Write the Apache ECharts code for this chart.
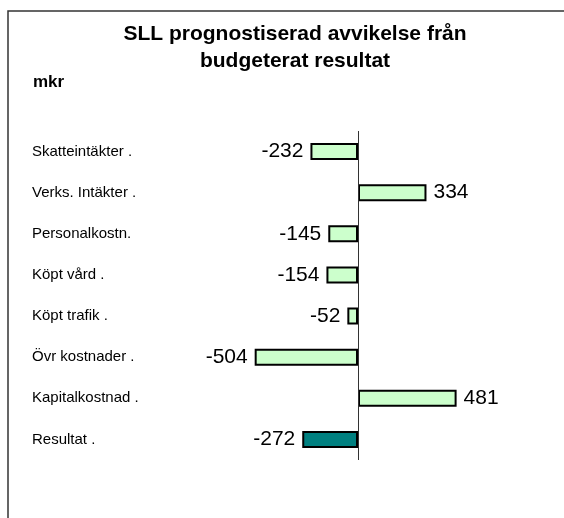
<!DOCTYPE html>
<html><head><meta charset="utf-8">
<script src="https://cdn.jsdelivr.net/npm/echarts@6/dist/echarts.min.js"></script>
<style>html,body{margin:0;padding:0;background:#fff}#c{width:564px;height:518px}</style>
</head><body><div id="c"></div>
<script>
const categories = ["Skatteintäkter .", "Verks. Intäkter .", "Personalkostn.", "Köpt vård .", "Köpt trafik .", "Övr kostnader .", "Kapitalkostnad .", "Resultat ."];
const values = [-232, 334, -145, -154, -52, -504, 481, -272];
const titleLines = ["SLL prognostiserad avvikelse från", "budgeterat resultat"];
const unitLabel = "mkr";

const FONT = '"Liberation Sans", Arial, sans-serif';
const chart = echarts.init(document.getElementById('c'), null, {renderer: 'canvas'});
const data = values.map((v, i) => ({
  value: v,
  itemStyle: {color: i === values.length - 1 ? '#008080' : '#ccffcc'},
  label: {position: v < 0 ? 'left' : 'right'}
}));
chart.setOption({
  backgroundColor: '#fff',
  animation: false,
  title: {
    text: titleLines.join('\n'),
    left: 295, top: 21, padding: 0, textAlign: 'center',
    textStyle: {fontFamily: FONT, fontSize: 21, fontWeight: 'bold', color: '#000', lineHeight: 27}
  },
  graphic: [
    {type: 'rect', shape: {x: 8, y: 11, width: 700, height: 700}, style: {fill: 'none', stroke: '#333', lineWidth: 1.5}},
    {type: 'text', left: 33, top: 74, style: {text: unitLabel, fontFamily: FONT, fontSize: 17, fontWeight: 'bold', fill: '#000'}}
  ],
  grid: {left: 194, width: 328, top: 131, height: 329, containLabel: false},
  xAxis: {type: 'value', min: -800, max: 800, show: false},
  yAxis: {
    type: 'category', data: categories, inverse: true,
    axisLine: {show: false}, axisTick: {show: false}, splitLine: {show: false},
    axisLabel: {align: 'left', margin: 162, fontFamily: FONT, fontSize: 15, color: '#000'}
  },
  series: [{
    type: 'bar', data: data, barWidth: 17,
    itemStyle: {borderColor: '#000', borderWidth: 2},
    label: {show: true, distance: 7, fontFamily: FONT, fontSize: 21, color: '#000'},
    markLine: {
      silent: true, symbol: 'none', label: {show: false},
      lineStyle: {color: '#333', width: 1, type: 'solid'},
      data: [{xAxis: 0}]
    }
  }]
});
</script></body></html>
